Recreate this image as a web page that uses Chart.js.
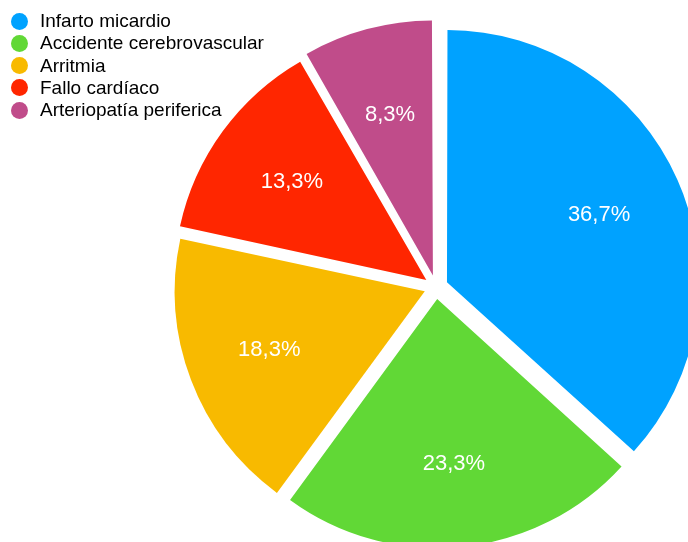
<!DOCTYPE html>
<html lang="es">
<head>
<meta charset="utf-8">
<title>Causas cardiovasculares</title>
<script src="https://cdn.jsdelivr.net/npm/chart.js@4.4.1/dist/chart.umd.min.js"></script>
<style>
    body { margin: 0; background: #fff; overflow: hidden; }
    #contenedor { position: relative; width: 688px; height: 542px; }
    #leyenda {
        position: absolute; left: 0; top: 10px; margin: 0; padding: 0; list-style: none;
        font-family: "Liberation Sans", Arial, Helvetica, sans-serif; font-size: 19px; color: #000;
    }
    #leyenda li { position: relative; height: 22.3px; line-height: 22.3px; padding-left: 40px; white-space: nowrap; }
    #leyenda li span { position: absolute; left: 10.5px; top: 2.6px; width: 17px; height: 17px; border-radius: 50%; }
</style>
</head>
<body>
<div id="contenedor">
    <canvas id="graficoTorta"></canvas>
    <ul id="leyenda"></ul>
</div>
<script>
var categorias = ['Infarto micardio', 'Accidente cerebrovascular', 'Arritmia', 'Fallo cardíaco', 'Arteriopatía periferica'];
var porcentajes = [36.7, 23.3, 18.3, 13.3, 8.3];
var colores = ['#00a2ff', '#61d836', '#f8ba00', '#ff2600', '#c04c8a'];

function formatPct(val) {
    return val.toFixed(1).replace('.', ',') + '%';
}

// escribe el porcentaje dentro de cada porción, desplazado igual que la porción
// (el arco de Chart.js v4 se traslada offset / 4)
var etiquetasPorcentaje = {
    id: 'etiquetasPorcentaje',
    afterDatasetsDraw: function (chart) {
        var ctx = chart.ctx;
        var meta = chart.getDatasetMeta(0);
        ctx.save();
        ctx.fillStyle = '#ffffff';
        ctx.font = '22px "Liberation Sans", Arial, sans-serif';
        ctx.textAlign = 'center';
        ctx.textBaseline = 'middle';
        meta.data.forEach(function (arc, i) {
            var medio = (arc.startAngle + arc.endAngle) / 2;
            var dist = arc.options.offset / 4 + arc.outerRadius * 0.668;
            ctx.fillText(formatPct(porcentajes[i]), arc.x + Math.cos(medio) * dist, arc.y + Math.sin(medio) * dist);
        });
        ctx.restore();
    }
};

function armarLeyenda() {
    var html = '';
    categorias.forEach(function (c, i) {
        html += '<li><span style="background:' + colores[i] + '"></span>' + c + '</li>';
    });
    document.getElementById('leyenda').innerHTML = html;
}

document.addEventListener('DOMContentLoaded', function () {
    var ctx = document.getElementById('graficoTorta').getContext('2d');
    new Chart(ctx, {
        type: 'pie',
        data: {
            labels: categorias,
            datasets: [{
                data: porcentajes,
                backgroundColor: colores,
                borderWidth: 0,
                offset: 48,
                hoverOffset: 48,
                clip: false,
            }],
        },
        options: {
            responsive: true,
            maintainAspectRatio: false,
            animation: false,
            radius: 249,
            layout: { padding: { left: 184, top: 32, right: 0, bottom: 0 } },
            plugins: {
                legend: { display: false },
                tooltip: { enabled: false },
            },
        },
        plugins: [etiquetasPorcentaje],
    });
    armarLeyenda();
});
</script>
</body>
</html>
